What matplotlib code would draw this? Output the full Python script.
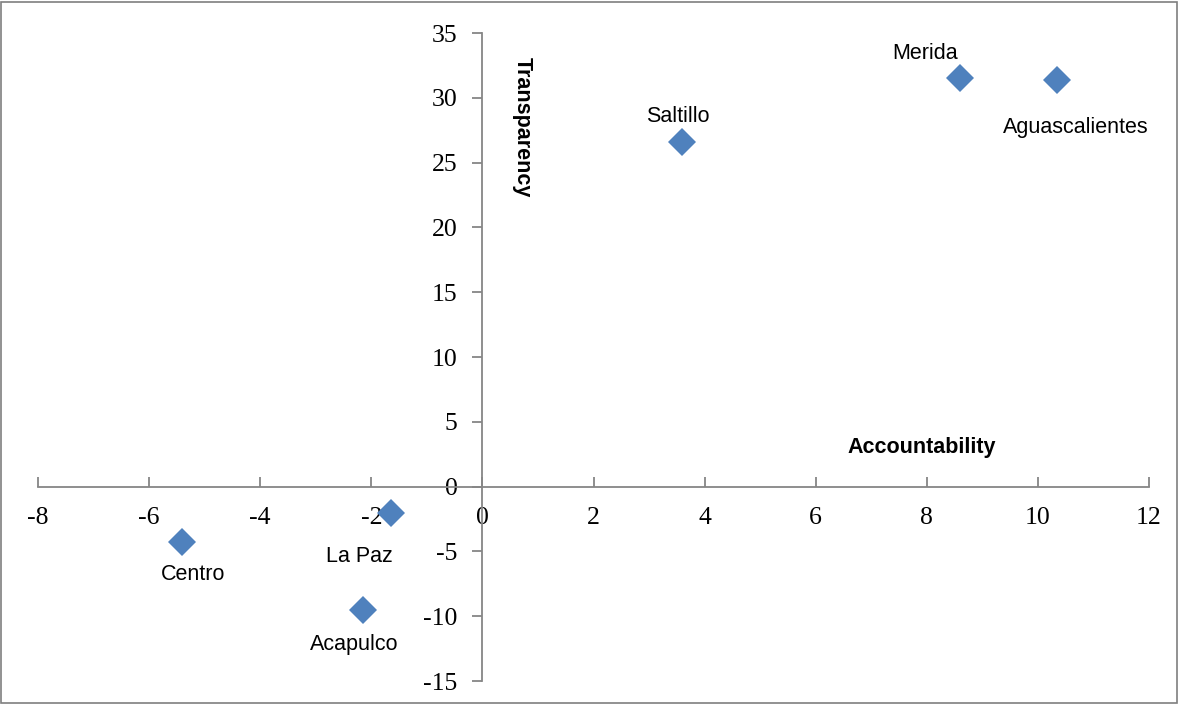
import matplotlib.pyplot as plt
from matplotlib.patches import Rectangle

plt.rcParams['axes.unicode_minus'] = False

# city scores on the two governance indices
cities = ['Merida', 'Aguascalientes', 'Saltillo', 'La Paz', 'Centro', 'Acapulco']
accountability = [8.6, 10.35, 3.6, -1.65, -5.4, -2.15]
transparency = [31.5, 31.4, 26.6, -2.0, -4.3, -9.5]

# where each name sits relative to its marker (pixels)
label_offsets = [(-35, 25), (18, -48), (-5, 25), (-31, -44), (11, -32), (-9, -35)]

axis_grey = '#868686'

fig = plt.figure(figsize=(11.79, 7.04), dpi=100)
ax = fig.add_axes([38 / 1179, 23 / 704, 1111 / 1179, 648 / 704])

ax.plot(accountability, transparency, 'D', color='#4F81BD', markersize=14,
        markeredgewidth=0, linestyle='none')

for name, x, y, off in zip(cities, accountability, transparency, label_offsets):
    ax.annotate(name, (x, y), xytext=off, textcoords='offset pixels',
                ha='center', va='center', fontsize=15.5, family='Liberation Sans')

ax.set_xlim(-8, 12)
ax.set_ylim(-15, 35)
ax.set_xticks(range(-8, 13, 2))
ax.set_yticks(range(-15, 36, 5))

# axes cross at the origin
ax.spines['left'].set_position(('data', 0))
ax.spines['bottom'].set_position(('data', 0))
ax.spines['right'].set_visible(False)
ax.spines['top'].set_visible(False)
for s in ('left', 'bottom'):
    ax.spines[s].set_color(axis_grey)
    ax.spines[s].set_linewidth(1.3)

ax.tick_params(axis='x', direction='in', length=7, width=1.3, color=axis_grey, pad=15)
ax.tick_params(axis='y', direction='out', length=7, width=1.3, color=axis_grey, pad=11)
for lbl in ax.get_xticklabels() + ax.get_yticklabels():
    lbl.set_family('Liberation Serif')
    lbl.set_fontsize(18.5)

ax.text(0.71, 27.7, 'Transparency', rotation=-90, ha='center', va='center',
        fontsize=15.5, fontweight='bold', family='Liberation Sans')
ax.text(7.9, 3.0, 'Accountability', ha='center', va='center',
        fontsize=15.5, fontweight='bold', family='Liberation Sans')

# outer chart border
fig.patches.append(Rectangle((1 / 1179, 1 / 704), 1176 / 1179, 701 / 704,
                             transform=fig.transFigure, fill=False,
                             edgecolor='#7f7f7f', linewidth=1.2))

fig.savefig('out.png', dpi=100)
